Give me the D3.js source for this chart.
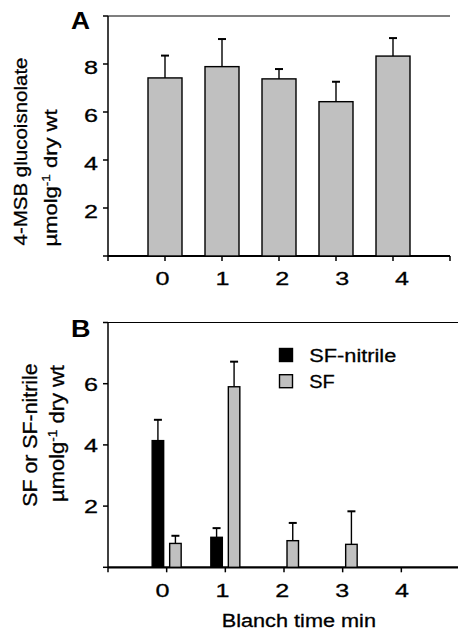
<!DOCTYPE html>
<html>
<head>
<meta charset="utf-8">
<script src="https://cdn.jsdelivr.net/npm/d3@7"></script>
<style>
  html, body { margin: 0; padding: 0; background: #fff; }
  svg { display: block; }
  text { font-family: "Liberation Sans", Arial, Helvetica, sans-serif; fill: #000; }
  text.n { stroke: #000; stroke-width: 0.3px; }
</style>
</head>
<body>
<svg id="chart" width="458" height="631"></svg>
<script>
// ---------- data ----------
const blanchTimes = [0, 1, 2, 3, 4];
const tickLabels = ["0", "1", "2", "3", "4"];

// Panel A: 4-MSB glucosinolate
const gslMean = [7.42, 7.89, 7.38, 6.43, 8.33];
const gslErr  = [0.93, 1.15, 0.41, 0.83, 0.75];

// Panel B: SF-nitrile and SF
const seriesNames  = ["SF-nitrile", "SF"];
const nitrileMean  = [4.14, 0.98, 0, 0, 0];
const nitrileErr   = [0.68, 0.30, 0, 0, 0];
const sfMean       = [0.78, 5.90, 0.87, 0.75, 0];
const sfErr        = [0.25, 0.82, 0.58, 1.08, 0];

const yTicksA = [0, 2, 4, 6, 8, 10];
const yLabelsA = [2, 4, 6, 8];
const yTicksB = [0, 2, 4, 6, 8];
const yLabelsB = [2, 4, 6];

// ---------- styles ----------
const GREY = "#c0c0c0";
const svg = d3.select("#chart");

function addText(g, str, x, y, size, len, opts = {}) {
  const t = g.append("text")
    .attr("class", opts.bold ? "b" : "n")
    .attr("x", x).attr("y", y)
    .attr("font-size", size)
    .attr("font-weight", opts.bold ? "bold" : "normal")
    .attr("textLength", len)
    .attr("lengthAdjust", "spacingAndGlyphs");
  if (opts.rotate) t.attr("transform", `rotate(-90,${x},${y})`);
  if (opts.sup) {
    t.append("tspan").text(str[0]);
    t.append("tspan").text(str[1]).attr("font-size", size * 0.62).attr("dy", -size * 0.38);
    t.append("tspan").text(str[2]).attr("dy", size * 0.38);
  } else {
    t.text(str);
  }
  return t;
}

function drawErr(g, cx, yTop, yErr, capW) {
  g.append("line")
    .attr("x1", cx).attr("x2", cx)
    .attr("y1", yTop).attr("y2", yErr)
    .attr("stroke", "#000").attr("stroke-width", 1.4);
  g.append("line")
    .attr("x1", cx - capW / 2).attr("x2", cx + capW / 2)
    .attr("y1", yErr).attr("y2", yErr)
    .attr("stroke", "#000").attr("stroke-width", 2);
}

function drawFrame(g, x, y, xDomain, yTicks, yLabels, labelDy) {
  const [x0, x1] = x.range();
  const [yb, yt] = y.range();
  // top border
  g.append("line").attr("x1", x0).attr("x2", x1).attr("y1", yt).attr("y2", yt)
    .attr("stroke", "#000").attr("stroke-width", 1.2);
  // y axis line
  g.append("line").attr("x1", x0).attr("x2", x0).attr("y1", yt).attr("y2", yb)
    .attr("stroke", "#000").attr("stroke-width", 1.5);
  // y ticks
  g.selectAll(null).data(yTicks).enter().append("line")
    .attr("x1", x0 - 5).attr("x2", x0)
    .attr("y1", d => y(d)).attr("y2", d => y(d))
    .attr("stroke", "#000").attr("stroke-width", 1.5);
  yLabels.forEach(d => addText(g, String(d), 84, y(d) + labelDy, 19.2, 14));
  // x axis line
  g.append("line").attr("x1", x0).attr("x2", x1).attr("y1", yb).attr("y2", yb)
    .attr("stroke", "#000").attr("stroke-width", 2.2);
  // x ticks at category centres and ends
  const xt = d3.range(xDomain[0], xDomain[1] + 1);
  g.selectAll(null).data(xt).enter().append("line")
    .attr("x1", d => x(d)).attr("x2", d => x(d))
    .attr("y1", yb).attr("y2", yb + 5)
    .attr("stroke", "#000").attr("stroke-width", 1.5);
}

// label placement scale (labels sit slightly off the tick marks in the original)
const xLabel = d3.scaleLinear().domain([0, 4]).range([162.5, 402]);

// ================= Panel A =================
const gA = svg.append("g");
const xDomA = [-1, 5];
const xA = d3.scaleLinear().domain(xDomA).range([108, 450]);
const yA = d3.scaleLinear().domain([0, 10]).range([256, 16]);
const barWA = 34;

drawFrame(gA, xA, yA, xDomA, yTicksA, yLabelsA, 10);

blanchTimes.forEach((t, i) => {
  const cx = xA(t);
  drawErr(gA, cx, yA(gslMean[i]), yA(gslMean[i] + gslErr[i]), 8);
});
gA.selectAll("rect.a").data(blanchTimes).enter().append("rect")
  .attr("x", d => xA(d) - barWA / 2)
  .attr("width", barWA)
  .attr("y", (d, i) => yA(gslMean[i]))
  .attr("height", (d, i) => yA(0) - yA(gslMean[i]))
  .attr("fill", GREY).attr("stroke", "#000").attr("stroke-width", 1.4);

tickLabels.forEach((l, i) => addText(gA, l, xLabel(blanchTimes[i]) - 7, 284.5, 19.2, 14));

addText(gA, "A", 71, 29.3, 24.5, 19, { bold: true });
addText(gA, "4-MSB glucoisnolate", 27, 245.5, 18.5, 188, { rotate: true });
addText(gA, ["µmolg", "-1", " dry wt"], 57, 246.5, 18.8, 137, { rotate: true, sup: true });

// ================= Panel B =================
const gB = svg.append("g");
const xDomB = [-1, 5];
const xB = d3.scaleLinear().domain(xDomB).range([108, 460]);
const yB = d3.scaleLinear().domain([0, 8]).range([567.3, 322.5]);
const sub = d3.scaleBand().domain(seriesNames).range([-14.5, 14.5]).paddingInner(0.343);

drawFrame(gB, xB, yB, xDomB, yTicksB, yLabelsB, 7);

const seriesData = [
  { name: "SF-nitrile", mean: nitrileMean, err: nitrileErr, fill: "#000" },
  { name: "SF", mean: sfMean, err: sfErr, fill: GREY }
];

seriesData.forEach(s => {
  blanchTimes.forEach((t, i) => {
    if (s.mean[i] <= 0) return;
    const x0 = xB(t) + sub(s.name);
    const cx = x0 + sub.bandwidth() / 2;
    drawErr(gB, cx, yB(s.mean[i]), yB(s.mean[i] + s.err[i]), 8);
    gB.append("rect")
      .attr("x", x0).attr("width", sub.bandwidth())
      .attr("y", yB(s.mean[i]))
      .attr("height", yB(0) - yB(s.mean[i]))
      .attr("fill", s.fill).attr("stroke", "#000").attr("stroke-width", 1.4);
  });
});

tickLabels.forEach((l, i) => addText(gB, l, xLabel(blanchTimes[i]) - 7, 596.7, 19.2, 14));

addText(gB, "B", 71, 336.7, 23, 19.5, { bold: true });
addText(gB, "SF or SF-nitrile", 37.3, 506.7, 19.5, 143.3, { rotate: true });
addText(gB, ["µmolg", "-1", " dry wt"], 64, 502, 19.5, 137, { rotate: true, sup: true });
addText(gB, "Blanch time min", 221.7, 626.7, 18.8, 154.3);

// legend
const legend = gB.append("g");
seriesData.forEach((s, i) => {
  const ly = 348.5 + i * 26.2;
  legend.append("rect")
    .attr("x", 279.5).attr("y", ly).attr("width", 13).attr("height", 13)
    .attr("fill", s.fill).attr("stroke", "#000").attr("stroke-width", 1.4);
  addText(legend, s.name, 309.3, ly + 13.3, 18.8, s.name === "SF" ? 25.5 : 87);
});
</script>
</body>
</html>
